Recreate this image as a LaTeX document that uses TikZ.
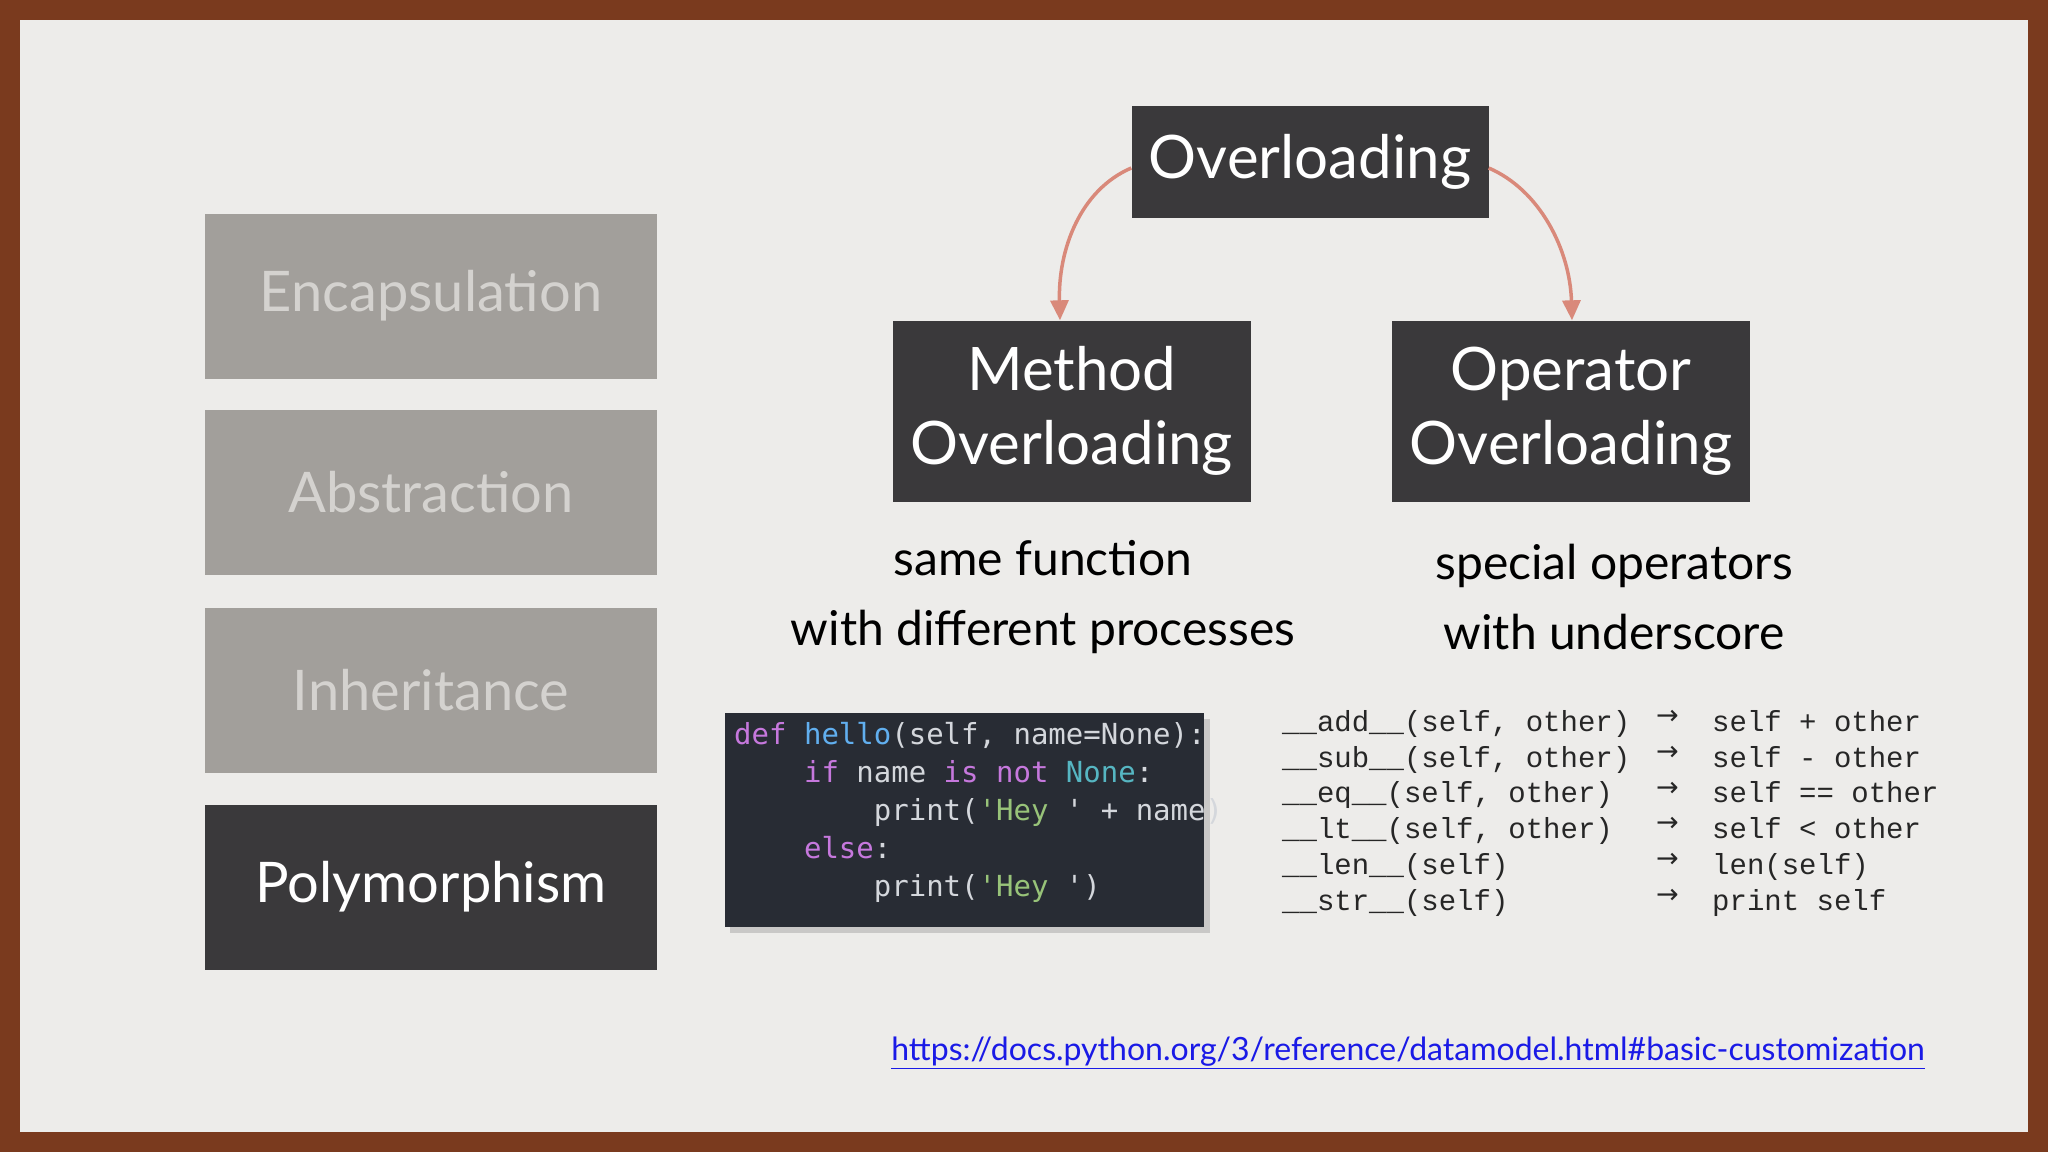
\documentclass[tikz,border=0pt]{standalone}
\usepackage{fontspec}
\setmainfont{Lato}
\newfontfamily\codefont{DejaVu Sans Mono}
\newfontfamily\tabfont{Liberation Mono}
\newfontfamily\symfont{DejaVu Sans}
\usetikzlibrary{arrows.meta}
\definecolor{bgpanel}{HTML}{EDECEA}
\definecolor{frame}{HTML}{7A3A1E}
\definecolor{darkbox}{HTML}{3A393B}
\definecolor{greybox}{HTML}{A29F9B}
\definecolor{greytxt}{HTML}{D4D2CF}
\definecolor{salmon}{HTML}{D9897A}
\definecolor{codebg}{HTML}{282C34}
\definecolor{ckw}{HTML}{C678DD}
\definecolor{cfn}{HTML}{61AFEF}
\definecolor{ctx}{HTML}{D4D7DC}
\definecolor{cstr}{HTML}{98C379}
\definecolor{ccon}{HTML}{56B6C2}
\definecolor{urlblue}{HTML}{1A1AE6}
\begin{document}
\begin{tikzpicture}[x=1pt,y=-1pt,
  leftbox/.style={fill=greybox,text=greytxt,minimum width=452pt,minimum height=165pt,font=\fontsize{56}{60}\selectfont,inner sep=0},
  darkb/.style={fill=darkbox,text=white,inner sep=0,align=center},
  desc/.style={align=center,font=\fontsize{48}{70}\selectfont,text=black},
  arr/.style={draw=salmon,line width=3.5pt,-{Triangle[length=20pt,width=18pt]}}]
\fill[frame] (0,0) rectangle (2048,1152);
\fill[bgpanel] (20,20) rectangle (2028,1132);
\useasboundingbox (0,0) rectangle (2048,1152);
\node[leftbox] (enc) at (431,296) {Encapsulation};
\node[leftbox] (abs) at (431,492) {Abstraction};
\node[leftbox] (inh) at (431,690) {Inheritance};
\node[leftbox,fill=darkbox,text=white] (poly) at (431,887) {Polymorphism};
\node[darkb,minimum width=357pt,minimum height=112pt,font=\fontsize{60}{66}\selectfont] (ovl) at (1310,162) {Overloading};
\node[darkb,minimum width=358pt,minimum height=181pt,font=\fontsize{60}{74}\selectfont] (meth) at (1072,411) {Method\\Overloading};
\node[darkb,minimum width=358pt,minimum height=181pt,font=\fontsize{60}{74}\selectfont] (oper) at (1571,411) {Operator\\Overloading};
\draw[arr] (ovl.west) ++(0,6) coordinate (a1) (a1) .. controls (1080,190) and (1058,250) .. (meth.north -| 1060,0);
\draw[arr] (ovl.east) ++(0,6) coordinate (a2) (a2) .. controls (1540,190) and (1570,250) .. (oper.north -| 1572,0);
\node[desc] (d1) at (1043,597) {same function\\with different processes};
\node[desc] (d2) at (1614,597) {special operators\\with underscore};
\fill[black!35,opacity=0.5] (730,719) rectangle (1210,933);
\node[fill=codebg,minimum width=479pt,minimum height=214pt,inner sep=0] (code) at (964,820) {};
\node[anchor=north west,align=left,inner sep=0,font=\codefont\fontsize{29}{38}\selectfont,text=ctx] (codetxt) at (734,722) {%
\textcolor{ckw}{def} \textcolor{cfn}{hello}(self, name=None):\\
\phantom{xxxx}\textcolor{ckw}{if} name \textcolor{ckw}{is} \textcolor{ckw}{not} \textcolor{ccon}{None}:\\
\phantom{xxxxxxxx}print(\textcolor{cstr}{'Hey} ' + name)\\
\phantom{xxxx}\textcolor{ckw}{else}:\\
\phantom{xxxxxxxx}print(\textcolor{cstr}{'Hey} ')};
\node[anchor=north west,align=left,inner sep=0,font=\tabfont\fontsize{29}{35.8}\selectfont,text=black!85] (tab) at (1282,710) {%
\_\_add\_\_(self, other)\\
\_\_sub\_\_(self, other)\\
\_\_eq\_\_(self, other)\\
\_\_lt\_\_(self, other)\\
\_\_len\_\_(self)\\
\_\_str\_\_(self)};
\node[anchor=north west,align=left,inner sep=0,font=\symfont\fontsize{27}{35.8}\selectfont,text=black!85] (arrs) at (1656,710) {→\\→\\→\\→\\→\\→};
\node[anchor=north west,align=left,inner sep=0,font=\tabfont\fontsize{29}{35.8}\selectfont,text=black!85] (res) at (1712,710) {%
self + other\\
self - other\\
self == other\\
self < other\\
len(self)\\
print self};
\node[font=\fontsize{32}{36}\selectfont,text=urlblue,inner sep=0] (url) at (1408,1053) {\underline{https://docs.python.org/3/reference/datamodel.html\#basic-customization}};
\end{tikzpicture}
\end{document}
